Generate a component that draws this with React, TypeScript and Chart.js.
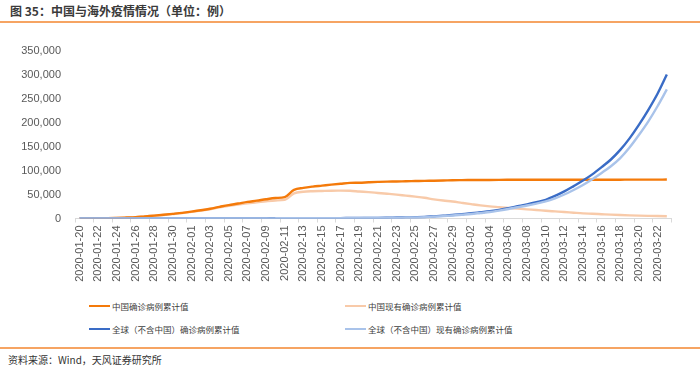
import React, { useEffect, useRef } from 'react';
import { Chart, registerables } from 'chart.js';

Chart.register(...registerables);

const dates: string[] = [
  '2020-01-20', '2020-01-21', '2020-01-22', '2020-01-23', '2020-01-24', '2020-01-25', '2020-01-26', '2020-01-27',
  '2020-01-28', '2020-01-29', '2020-01-30', '2020-01-31', '2020-02-01', '2020-02-02', '2020-02-03', '2020-02-04',
  '2020-02-05', '2020-02-06', '2020-02-07', '2020-02-08', '2020-02-09', '2020-02-10', '2020-02-11', '2020-02-12',
  '2020-02-13', '2020-02-14', '2020-02-15', '2020-02-16', '2020-02-17', '2020-02-18', '2020-02-19', '2020-02-20',
  '2020-02-21', '2020-02-22', '2020-02-23', '2020-02-24', '2020-02-25', '2020-02-26', '2020-02-27', '2020-02-28',
  '2020-02-29', '2020-03-01', '2020-03-02', '2020-03-03', '2020-03-04', '2020-03-05', '2020-03-06', '2020-03-07',
  '2020-03-08', '2020-03-09', '2020-03-10', '2020-03-11', '2020-03-12', '2020-03-13', '2020-03-14', '2020-03-15',
  '2020-03-16', '2020-03-17', '2020-03-18', '2020-03-19', '2020-03-20', '2020-03-21', '2020-03-22', '2020-03-23',
];

const chinaConfirmed: number[] = [
  291, 440, 571, 830, 1287, 1975, 2744, 4515, 5974, 7711, 9692, 11791,
  14380, 17205, 20438, 24324, 28018, 31161, 34546, 37198, 40171, 42638,
  44653, 59804, 63851, 66492, 68500, 70548, 72436, 74185, 74576, 75465,
  76288, 76936, 77150, 77658, 78064, 78497, 78824, 79251, 79824,
  80026, 80151, 80270, 80409, 80552, 80651, 80695, 80735, 80754, 80778,
  80793, 80813, 80824, 80844, 80860, 80881, 80894, 80928, 80967, 81008,
  81054, 81093, 81171,
];

const chinaCurrent: number[] = [
  282, 389, 517, 771, 1208, 1870, 2613, 4349, 5739, 7417, 9308, 11289,
  13748, 16369, 19381, 23284, 26302, 28985, 31774, 33738, 35982, 37626,
  38800, 52526, 55748, 56873, 57416, 57934, 58016, 57805, 56303, 54965,
  53284, 51606, 49824, 47672, 45604, 43258, 39919, 37414, 35329,
  32652, 30004, 27433, 25352, 23784, 22177, 20533, 19016, 17721, 16145,
  14831, 13526, 12094, 10734, 9898, 8976, 8056, 7263, 6569, 6013,
  5549, 5120, 4735,
];

const globalConfirmed: number[] = [
  4, 6, 7, 11, 21, 28, 43, 50, 69, 79, 93, 125,
  147, 157, 171, 191, 203, 215, 285, 315, 331, 415,
  425, 470, 486, 551, 639, 722, 836, 941, 1033, 1135,
  1291, 1601, 1960, 2305, 2645, 3210, 4500, 5800, 7200,
  9000, 10800, 12900, 15000, 18000, 21500, 25500, 29500, 34000, 39000,
  47000, 56500, 67500, 79000, 92000, 107000, 123000, 143000, 167000, 195000,
  226000, 260000, 300000,
];

const globalCurrent: number[] = [
  4, 6, 7, 11, 21, 28, 42, 49, 66, 76, 89, 118,
  138, 145, 157, 175, 183, 193, 255, 280, 290, 365,
  370, 405, 415, 470, 540, 610, 705, 790, 860, 935,
  1060, 1330, 1650, 1950, 2250, 2750, 3900, 5000, 6300,
  7900, 9500, 11500, 13500, 16500, 19800, 23500, 27000, 31000, 35500,
  42000, 50000, 59500, 70000, 82000, 95000, 109000, 126000, 148000, 174000,
  202000, 234000, 269000,
];

const seriesNames: string[] = [
  '中国确诊病例累计值',
  '中国现有确诊病例累计值',
  '全球（不含中国）确诊病例累计值',
  '全球（不含中国）现有确诊病例累计值',
];

const yTicks: number[] = [0, 50000, 100000, 150000, 200000, 250000, 300000, 350000];

const COLORS = ['#F47A0A', '#F8CAA9', '#3A6CC6', '#A9C3EA'];
const ORDERS = [2, 3, 1, 0];
const FONT = '"Liberation Sans", Arial, "Noto Sans CJK SC", sans-serif';
const CJK = '"Noto Sans CJK SC", "Liberation Sans", sans-serif';

export default function App() {
  const canvasRef = useRef<HTMLCanvasElement | null>(null);

  useEffect(() => {
    const canvas = canvasRef.current;
    if (!canvas) return;
    const values = [chinaConfirmed, chinaCurrent, globalConfirmed, globalCurrent];
    const chart = new Chart(canvas, {
      type: 'line',
      data: {
        labels: dates,
        datasets: values.map((d, i) => ({
          label: seriesNames[i],
          data: d,
          borderColor: COLORS[i],
          backgroundColor: COLORS[i],
          borderWidth: 2.4,
          pointRadius: 0,
          pointHoverRadius: 0,
          fill: false,
          cubicInterpolationMode: 'monotone' as const,
          order: ORDERS[i],
        })),
      },
      options: {
        animation: false,
        responsive: false,
        devicePixelRatio: 1,
        events: [],
        layout: { padding: { top: 15, right: 28.5, left: 0, bottom: 0 } },
        plugins: {
          legend: { display: false },
          tooltip: { enabled: false },
          title: { display: false },
        },
        scales: {
          x: {
            type: 'category',
            offset: true,
            grid: {
              display: true,
              offset: true,
              drawOnChartArea: false,
              drawTicks: true,
              tickLength: 4,
              color: (ctx: any) =>
                ctx.index === undefined || ctx.index % 2 === 0 ? '#D9D9D9' : 'rgba(0,0,0,0)',
            },
            border: { display: true, color: '#D9D9D9', width: 1 },
            ticks: {
              autoSkip: false,
              minRotation: 90,
              maxRotation: 90,
              padding: 3,
              color: '#595959',
              font: { family: FONT, size: 11 },
              callback: (_v: any, i: number) => (i % 2 === 0 ? dates[i] : ''),
            },
            afterFit: (scale: any) => {
              scale.height = 71.5;
            },
          },
          y: {
            min: 0,
            max: 350000,
            afterBuildTicks: (scale: any) => {
              scale.ticks = yTicks.map((v) => ({ value: v }));
            },
            grid: { display: false, drawTicks: false },
            border: { display: false },
            ticks: {
              padding: 14,
              color: '#595959',
              font: { family: FONT, size: 11 },
              callback: (v: any) => Number(v).toLocaleString('en-US'),
            },
            afterFit: (scale: any) => {
              scale.width = 75;
            },
          },
        },
      },
    });
    return () => chart.destroy();
  }, []);

  const legendItems = [
    { x: 89, y: 306, i: 0 },
    { x: 345, y: 306, i: 1 },
    { x: 89, y: 329, i: 2 },
    { x: 345, y: 329, i: 3 },
  ];

  return (
    <div
      style={{
        position: 'fixed',
        left: 0,
        top: 0,
        width: 700,
        height: 369,
        background: '#ffffff',
        overflow: 'hidden',
        fontFamily: CJK,
      }}
    >
      <div
        style={{
          position: 'absolute',
          left: 10,
          top: 3,
          fontSize: 12,
          fontWeight: 'bold',
          color: '#3A3A3A',
          lineHeight: '16px',
          whiteSpace: 'nowrap',
        }}
      >
        图 35：中国与海外疫情情况（单位：例）
      </div>
      <div style={{ position: 'absolute', left: 0, top: 21, width: 700, height: 1.5, background: '#F6A463' }} />
      <div style={{ position: 'absolute', left: 0, top: 30, width: 700, height: 260 }}>
        <canvas ref={canvasRef} width={700} height={260} style={{ display: 'block', width: 700, height: 260 }} />
      </div>
      {legendItems.map((it) => (
        <div key={it.i}>
          <div
            style={{
              position: 'absolute',
              left: it.x,
              top: it.y - 1.25,
              width: 21,
              height: 2.5,
              background: COLORS[it.i],
            }}
          />
          <div
            style={{
              position: 'absolute',
              left: it.x + 23,
              top: it.y - 7,
              fontSize: 8.5,
              lineHeight: '14px',
              color: '#404040',
              whiteSpace: 'nowrap',
            }}
          >
            {seriesNames[it.i]}
          </div>
        </div>
      ))}
      <div style={{ position: 'absolute', left: 0, top: 347, width: 700, height: 1.5, background: '#F6A463' }} />
      <div
        style={{
          position: 'absolute',
          left: 8,
          top: 353,
          fontSize: 10,
          lineHeight: '14px',
          color: '#333333',
          whiteSpace: 'nowrap',
        }}
      >
        资料来源：Wind，天风证券研究所
      </div>
    </div>
  );
}
